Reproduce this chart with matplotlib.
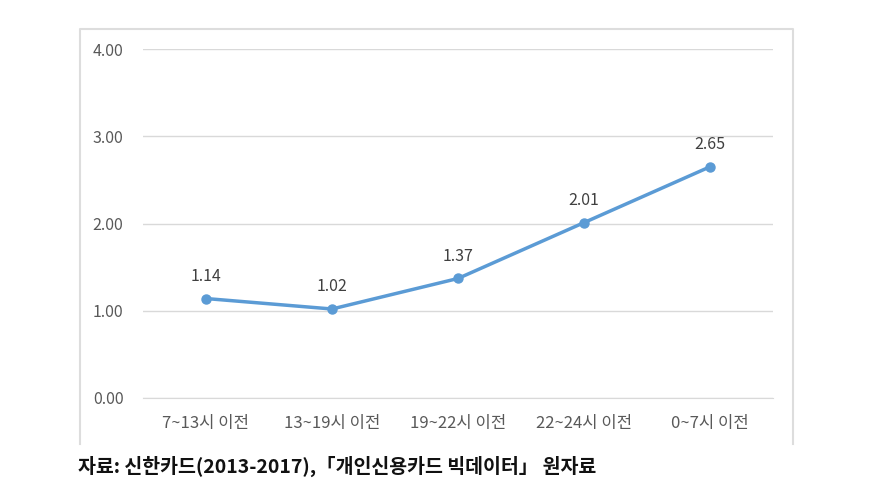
import matplotlib
matplotlib.use('Agg')
import numpy as np
from matplotlib import pyplot as plt
from matplotlib.lines import Line2D

plt.rcParams['font.family'] = ['Noto Sans CJK KR', 'DejaVu Sans']

categories = ['7~13시 이전', '13~19시 이전', '19~22시 이전', '22~24시 이전', '0~7시 이전']
values = [1.14, 1.02, 1.37, 2.01, 2.65]
yticks = [0.0, 1.0, 2.0, 3.0, 4.0]
caption = '자료: 신한카드(2013-2017),「개인신용카드 빅데이터」 원자료'

fig = plt.figure(figsize=(8.84, 4.87), dpi=100)
ax = fig.add_axes([143 / 884, 1 - 398 / 487, 630 / 884, 349 / 487])

x = np.arange(len(categories))
ax.plot(x, values, color='#5B9BD5', lw=2.5, marker='o', ms=6.5, zorder=3)
for xi, v in zip(x, values):
    ax.annotate(f'{v:.2f}', (xi, v), xytext=(0, 10), textcoords='offset points',
                ha='center', va='bottom', fontsize=11.5, color='#404040')

ax.set_xlim(-0.5, len(categories) - 0.5)
ax.set_ylim(0, 4)
ax.set_yticks(yticks)
ax.set_yticklabels([f'{t:.2f}' for t in yticks], fontsize=11.5, color='#595959')
ax.set_xticks(x)
ax.set_xticklabels(categories, fontsize=12, color='#595959')
ax.tick_params(axis='x', length=0, pad=12)
ax.tick_params(axis='y', length=0, pad=14)
ax.grid(axis='y', color='#D9D9D9', lw=1)
ax.set_axisbelow(True)
for s in ['top', 'right', 'left']:
    ax.spines[s].set_visible(False)
ax.spines['bottom'].set_color('#D9D9D9')

# chart frame (left, top, right)
fl, fr, ft, fb = 80 / 884, 793 / 884, 1 - 29 / 487, 1 - 444 / 487
fig.add_artist(Line2D([fl, fl, fr, fr], [fb, ft, ft, fb], color='#DDDDDD', lw=1.5,
                      transform=fig.transFigure))

fig.text(78 / 884, 1 - 466 / 487, caption, fontsize=14, fontweight='bold',
         color='#111111', va='center', ha='left')

fig.savefig('out.png', dpi=100)
